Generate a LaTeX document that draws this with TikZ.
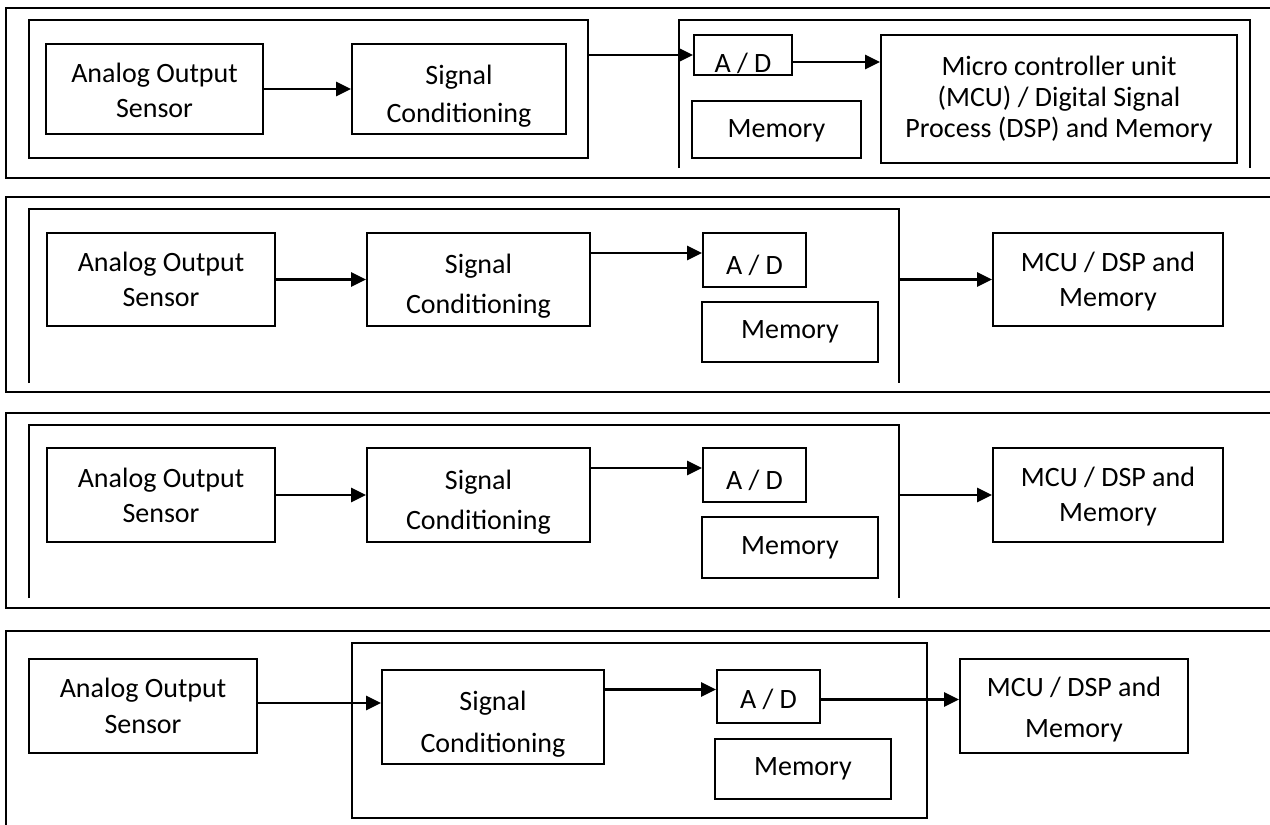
\documentclass[tikz,border=0pt]{standalone}
\usepackage{fontspec}
\setmainfont{Carlito}
\usetikzlibrary{arrows.meta}
\tikzset{
  bx/.style={draw, line width=1.8pt, inner sep=0pt},
  lbl/.style={inner sep=0pt, align=center},
  holder/.style={inner sep=0pt, draw=none},
  frame/.style={line width=1.8pt},
  arr/.style={line width=2.4pt, -{Triangle[length=15pt,width=14pt]}},
}
% #1 box name, #2 vertical shift, #3 line spacing, #4 text
\newcommand\boxtext[4]{\node[lbl, font=\fontsize{28}{#3}\selectfont, yshift=#2] (#1t) at (#1) {#4};}
\begin{document}
\begin{tikzpicture}[x=1pt,y=-1pt]
\useasboundingbox (0,0) rectangle (1270,825);
\fill[white] (0,0) rectangle (1270,825);

% ---------------- Panel 1 ----------------
\draw[frame] (1270,8) -- (6,8) -- (6,178) -- (1270,178);
\node[bx, minimum width=559pt, minimum height=138pt] (lb1) at (308.5,89) {};
\node[bx, minimum width=217pt, minimum height=90pt] (a1) at (154.5,89) {};
\boxtext{a1}{-1pt}{35}{Analog Output\\Sensor}
\node[bx, minimum width=214pt, minimum height=90pt] (s1) at (459,89) {};
\boxtext{s1}{-7pt}{38}{Signal\\Conditioning}
\node[holder, minimum width=571pt, minimum height=148pt] (rb1) at (964.5,94) {};
\draw[frame] (rb1.south west) -- (rb1.north west) -- (rb1.north east) -- (rb1.south east);
\node[bx, minimum width=98pt, minimum height=40pt] (ad1) at (743,55) {};
\boxtext{ad1}{-8pt}{35}{A / D}
\node[bx, minimum width=356pt, minimum height=128pt] (mcu1) at (1059,99) {};
\boxtext{mcu1}{0pt}{31}{Micro controller unit\\(MCU) / Digital Signal\\Process (DSP) and Memory}
\node[bx, minimum width=169pt, minimum height=57pt] (m1) at (776.5,129.5) {};
\boxtext{m1}{-1pt}{35}{Memory}
\draw[arr] (a1) -- (s1);
\draw[arr] (lb1.east |- ad1.west) -- (ad1.west);
\coordinate (t1) at ([yshift=-7pt]ad1.east);
\draw[arr] (t1) -- (t1 -| mcu1.west);

% ---------------- Panel 2 ----------------
\draw[frame] (1270,197) -- (6,197) -- (6,392) -- (1270,392);
\node[holder, minimum width=870pt, minimum height=174pt] (ib2) at (464,296) {};
\draw[frame] (ib2.south west) -- (ib2.north west) -- (ib2.north east) -- (ib2.south east);
\node[bx, minimum width=228pt, minimum height=93pt] (a2) at (161,279.5) {};
\boxtext{a2}{0pt}{35}{Analog Output\\Sensor}
\node[bx, minimum width=223pt, minimum height=93pt] (s2) at (478.5,279.5) {};
\boxtext{s2}{-7pt}{40}{Signal\\Conditioning}
\node[bx, minimum width=103pt, minimum height=54pt] (ad2) at (754.5,260) {};
\boxtext{ad2}{-5pt}{35}{A / D}
\node[bx, minimum width=176pt, minimum height=60pt] (m2) at (790,332) {};
\boxtext{m2}{0pt}{35}{Memory}
\node[bx, minimum width=230pt, minimum height=93pt] (mcu2) at (1108,279.5) {};
\boxtext{mcu2}{-2pt}{35}{MCU / DSP and\\Memory}
\draw[arr] (a2) -- (s2);
\coordinate (t2) at ([yshift=7pt]ad2.west);
\draw[arr] (s2.east |- t2) -- (t2);
\draw[arr] (ib2.east |- mcu2.west) -- (mcu2.west);

% ---------------- Panel 3 ----------------
\draw[frame] (1270,413) -- (6,413) -- (6,608) -- (1270,608);
\node[holder, minimum width=870pt, minimum height=173pt] (ib3) at (464,511.5) {};
\draw[frame] (ib3.south west) -- (ib3.north west) -- (ib3.north east) -- (ib3.south east);
\node[bx, minimum width=228pt, minimum height=94pt] (a3) at (161,495) {};
\boxtext{a3}{0pt}{35}{Analog Output\\Sensor}
\node[bx, minimum width=223pt, minimum height=94pt] (s3) at (478.5,495) {};
\boxtext{s3}{-7pt}{40}{Signal\\Conditioning}
\node[bx, minimum width=103pt, minimum height=54pt] (ad3) at (754.5,475) {};
\boxtext{ad3}{-5pt}{35}{A / D}
\node[bx, minimum width=176pt, minimum height=61pt] (m3) at (790,547.5) {};
\boxtext{m3}{0pt}{35}{Memory}
\node[bx, minimum width=230pt, minimum height=94pt] (mcu3) at (1108,495) {};
\boxtext{mcu3}{-2pt}{35}{MCU / DSP and\\Memory}
\draw[arr] (a3) -- (s3);
\coordinate (t3) at ([yshift=7pt]ad3.west);
\draw[arr] (s3.east |- t3) -- (t3);
\draw[arr] (ib3.east |- mcu3.west) -- (mcu3.west);

% ---------------- Panel 4 ----------------
\draw[frame] (1270,631) -- (6,631) -- (6,825);
\node[bx, minimum width=228pt, minimum height=94pt] (a4) at (143,706) {};
\boxtext{a4}{0pt}{36}{Analog Output\\Sensor}
\node[bx, minimum width=575pt, minimum height=175pt] (ib4) at (639.5,730.5) {};
\node[bx, minimum width=222pt, minimum height=94pt] (s4) at (493,717) {};
\boxtext{s4}{-7pt}{42}{Signal\\Conditioning}
\node[bx, minimum width=103pt, minimum height=53pt] (ad4) at (768.5,696.5) {};
\boxtext{ad4}{-3pt}{35}{A / D}
\node[bx, minimum width=176pt, minimum height=60pt] (m4) at (803,769) {};
\boxtext{m4}{0pt}{35}{Memory}
\node[bx, minimum width=228pt, minimum height=94pt] (mcu4) at (1074,706) {};
\boxtext{mcu4}{-4pt}{41}{MCU / DSP and\\Memory}
\coordinate (t4a) at ([yshift=3pt]a4.east);
\draw[arr] (t4a) -- (t4a -| s4.west);
\coordinate (t4b) at ([yshift=7pt]ad4.west);
\draw[arr] (s4.east |- t4b) -- (t4b);
\coordinate (t4c) at ([yshift=-3pt]ad4.east);
\draw[arr] (t4c) -- (t4c -| mcu4.west);
\end{tikzpicture}
\end{document}
